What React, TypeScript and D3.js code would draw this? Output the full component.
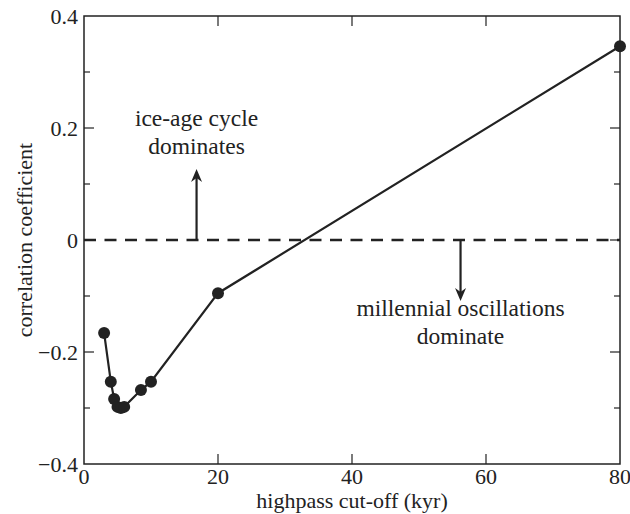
import React, { useEffect, useRef } from 'react';
import * as d3 from 'd3';

// highpass cut-off (kyr) vs correlation coefficient
const cutoff = [3, 4, 4.5, 5, 5.5, 6, 8.5, 10, 20, 80];
const corr = [-0.166, -0.253, -0.284, -0.298, -0.3, -0.298, -0.268, -0.253, -0.095, 0.346];

const xTicks = [0, 20, 40, 60, 80];
const yTicks = [-0.4, -0.2, 0, 0.2, 0.4];
const yMinor = [-0.3, -0.1, 0.1, 0.3];

const fontFamily = '"Liberation Serif", "DejaVu Serif", serif';

export default function App() {
    const ref = useRef<SVGSVGElement>(null);

    useEffect(() => {
        const w = 630;
        const h = 514;
        const margin = { top: 16, right: 10, bottom: 50, left: 84 };

        const svg = d3.select(ref.current);
        svg.selectAll('*').remove();

        const x = d3.scaleLinear().domain([0, 80]).range([margin.left, w - margin.right]);
        const y = d3.scaleLinear().domain([-0.4, 0.4]).range([h - margin.bottom, margin.top]);

        const [x0, x1] = x.range();
        const [y0, y1] = y.range();

        // frame
        svg.append('rect')
            .attr('x', x0).attr('y', y1)
            .attr('width', x1 - x0).attr('height', y0 - y1)
            .attr('fill', 'none').attr('stroke', '#222').attr('stroke-width', 1.5);

        // x ticks (inside, bottom and top)
        xTicks.slice(1, -1).forEach(t => {
            svg.append('line').attr('x1', x(t)).attr('x2', x(t)).attr('y1', y0).attr('y2', y0 - 10)
                .attr('stroke', '#222').attr('stroke-width', 1.2);
            svg.append('line').attr('x1', x(t)).attr('x2', x(t)).attr('y1', y1).attr('y2', y1 + 10)
                .attr('stroke', '#222').attr('stroke-width', 1.2);
        });
        xTicks.forEach(t => {
            svg.append('text').attr('x', x(t)).attr('y', y0 + 20)
                .attr('text-anchor', 'middle').attr('font-family', fontFamily).attr('font-size', 22)
                .attr('fill', '#222').text(t);
        });

        // y ticks
        yTicks.forEach(t => {
            if (t > -0.4 && t < 0.4) {
                svg.append('line').attr('x1', x0).attr('x2', x0 + 10).attr('y1', y(t)).attr('y2', y(t))
                    .attr('stroke', '#222').attr('stroke-width', 1.2);
                svg.append('line').attr('x1', x1).attr('x2', x1 - 10).attr('y1', y(t)).attr('y2', y(t))
                    .attr('stroke', '#222').attr('stroke-width', 1.2);
            }
            svg.append('text').attr('x', x0 - 6).attr('y', y(t)).attr('dy', '0.35em')
                .attr('text-anchor', 'end').attr('font-family', fontFamily).attr('font-size', 22)
                .attr('fill', '#222').text(t === 0 ? '0' : d3.format('.1f')(t).replace('-', '\u2212'));
        });
        yMinor.forEach(t => {
            svg.append('line').attr('x1', x0).attr('x2', x0 + 6).attr('y1', y(t)).attr('y2', y(t))
                .attr('stroke', '#222').attr('stroke-width', 1.2);
            svg.append('line').attr('x1', x1).attr('x2', x1 - 6).attr('y1', y(t)).attr('y2', y(t))
                .attr('stroke', '#222').attr('stroke-width', 1.2);
        });

        // axis titles
        svg.append('text').attr('x', (x0 + x1) / 2).attr('y', h - 6)
            .attr('text-anchor', 'middle').attr('font-family', fontFamily).attr('font-size', 22)
            .attr('fill', '#222').text('highpass cut-off (kyr)');
        svg.append('text')
            .attr('transform', 'translate(' + 32 + ',' + y(0) + ') rotate(-90)')
            .attr('text-anchor', 'middle').attr('font-family', fontFamily).attr('font-size', 22)
            .attr('fill', '#222').text('correlation coefficient');

        // zero line
        svg.append('line').attr('x1', x0).attr('x2', x1).attr('y1', y(0)).attr('y2', y(0))
            .attr('stroke', '#222').attr('stroke-width', 2.5).attr('stroke-dasharray', '12,8.5');

        // arrows
        const arrow = (xv: number, tipY: number) => {
            const dir = tipY < y(0) ? -1 : 1;
            svg.append('line').attr('x1', x(xv)).attr('x2', x(xv)).attr('y1', y(0)).attr('y2', tipY - dir * 8)
                .attr('stroke', '#222').attr('stroke-width', 2.2);
            svg.append('path')
                .attr('d', `M${x(xv)},${tipY} L${x(xv) - 5.5},${tipY - dir * 13} L${x(xv)},${tipY - dir * 9} L${x(xv) + 5.5},${tipY - dir * 13} Z`)
                .attr('fill', '#222');
        };
        arrow(16.8, 169);
        arrow(56.2, 301);

        const note = (xv: number, lines: string[], baseY: number) => {
            lines.forEach((s, i) => {
                svg.append('text').attr('x', x(xv)).attr('y', baseY + i * 28)
                    .attr('text-anchor', 'middle').attr('font-family', fontFamily).attr('font-size', 23.5)
                    .attr('fill', '#222').text(s);
            });
        };
        note(16.8, ['ice-age cycle', 'dominates'], 126);
        note(56.2, ['millennial oscillations', 'dominate'], 316);

        // data
        const pts = cutoff.map((c, i) => [c, corr[i]] as [number, number]);
        const line = d3.line<[number, number]>().x(d => x(d[0])).y(d => y(d[1]));
        svg.append('path').datum(pts).attr('d', line)
            .attr('fill', 'none').attr('stroke', '#222').attr('stroke-width', 2.2);
        svg.selectAll('circle.pt').data(pts).enter().append('circle')
            .attr('class', 'pt')
            .attr('cx', d => x(d[0])).attr('cy', d => y(d[1])).attr('r', 6)
            .attr('fill', '#222');
    }, []);

    return (
        <div style={{ position: 'absolute', left: 0, top: 0 }}>
            <svg ref={ref} width={630} height={514} style={{ display: 'block', background: '#fff' }} />
        </div>
    );
}
